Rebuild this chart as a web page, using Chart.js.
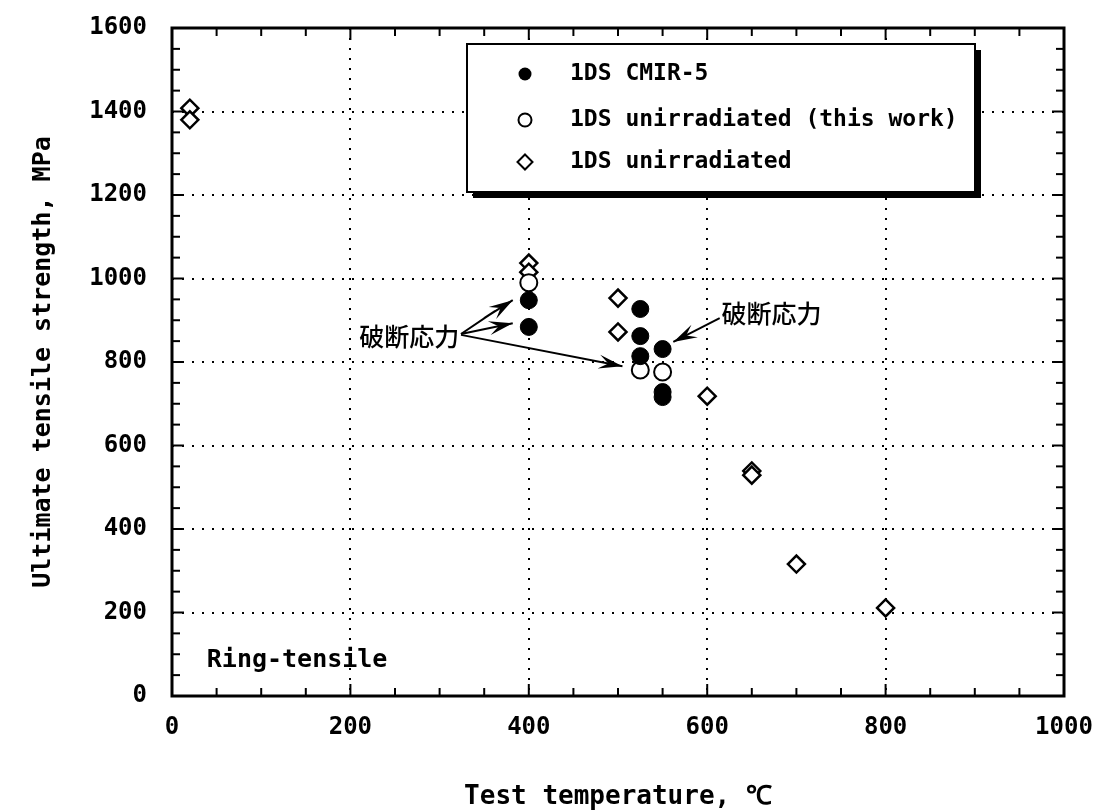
<!DOCTYPE html>
<html><head><meta charset="utf-8">
<script src="https://cdn.jsdelivr.net/npm/chart.js@4"></script>
<style>html,body{margin:0;padding:0;background:#fff}</style>
</head><body>
<canvas id="c" width="1101" height="810"></canvas>
<script>
// ---- data ----
const cmirTemp = [400, 400, 525, 525, 525, 550, 550, 550];
const cmirUTS  = [948, 884, 927, 862, 814, 831, 728, 716];
const thisWorkTemp = [400, 525, 550];
const thisWorkUTS  = [990, 781, 776];
const unirrTemp = [20, 20, 400, 400, 500, 500, 600, 650, 650, 700, 800];
const unirrUTS  = [1408, 1380, 1037, 1015, 953, 872, 718, 539, 529, 316, 211];
const seriesNames = ['1DS CMIR-5', '1DS unirradiated (this work)', '1DS unirradiated'];
const xTitle = 'Test temperature, \u2103';
const yTitle = 'Ultimate tensile strength, MPa';
const noteText = '破断応力';
const ringText = 'Ring-tensile';

const pts = (xs, ys) => xs.map((v, i) => ({x: v, y: ys[i]}));
const MONO = 'DejaVu Sans Mono';

const overlay = {
  id: 'overlay',
  beforeDatasetsDraw(ch) {
    const {ctx, chartArea: a, scales: {x, y}} = ch;
    ctx.save();
    ctx.strokeStyle = '#000';
    ctx.lineWidth = 2;
    const seg = (x1, y1, x2, y2) => { ctx.beginPath(); ctx.moveTo(x1, y1); ctx.lineTo(x2, y2); ctx.stroke(); };
    for (let v = x.min; v <= x.max; v += 50) {
      const p = x.getPixelForValue(v), L = v % 200 === 0 ? 12 : 8;
      seg(p, a.bottom, p, a.bottom - L); seg(p, a.top, p, a.top + L);
    }
    for (let v = y.min; v <= y.max; v += 50) {
      const p = y.getPixelForValue(v), L = v % 200 === 0 ? 12 : 8;
      seg(a.left, p, a.left + L, p); seg(a.right, p, a.right - L, p);
    }
    ctx.lineWidth = 3;
    ctx.strokeRect(a.left, a.top, a.right - a.left, a.bottom - a.top);
    ctx.restore();
  },
  afterDatasetsDraw(ch) {
    const {ctx, scales: {x, y}} = ch;
    const X = v => x.getPixelForValue(v), Y = v => y.getPixelForValue(v);
    ctx.save();
    ctx.fillStyle = '#000'; ctx.strokeStyle = '#000';
    // ---- legend box ----
    const bx = 467, by = 44, bw = 508, bh = 148;
    ctx.fillStyle = '#000';
    ctx.fillRect(bx + bw, by + 6, 6, bh);
    ctx.fillRect(bx + 6, by + bh, bw, 6);
    ctx.fillStyle = '#fff';
    ctx.fillRect(bx, by, bw, bh);
    ctx.lineWidth = 2;
    ctx.strokeRect(bx, by, bw, bh);
    const rows = [74, 120, 162];
    const mx = 525;
    ctx.fillStyle = '#000';
    ctx.beginPath(); ctx.arc(mx, rows[0], 6.5, 0, Math.PI * 2); ctx.fill();
    ctx.lineWidth = 2;
    ctx.beginPath(); ctx.arc(mx, rows[1], 6.5, 0, Math.PI * 2); ctx.stroke();
    ctx.beginPath(); ctx.moveTo(mx, rows[2] - 7.5); ctx.lineTo(mx + 7.5, rows[2]); ctx.lineTo(mx, rows[2] + 7.5); ctx.lineTo(mx - 7.5, rows[2]); ctx.closePath(); ctx.stroke();
    ctx.font = 'bold 23px "' + MONO + '"';
    ctx.textBaseline = 'middle'; ctx.textAlign = 'left';
    seriesNames.forEach((t, i) => ctx.fillText(t, 570, rows[i]));

    // ---- annotations ----
    ctx.font = '500 25px "Noto Sans CJK JP"';
    ctx.fillText(noteText, X(210), Y(862));
    ctx.fillText(noteText, X(616), Y(915));
    ctx.font = 'bold 25px "' + MONO + '"';
    ctx.fillText(ringText, X(39), Y(84));

    const head = (x1, y1, x2, y2) => {
      const ang = Math.atan2(y2 - y1, x2 - x1), L = 24, W = 7;
      ctx.beginPath();
      ctx.moveTo(x2, y2);
      ctx.lineTo(x2 - L * Math.cos(ang) + W * Math.sin(ang), y2 - L * Math.sin(ang) - W * Math.cos(ang));
      ctx.lineTo(x2 - 0.6 * L * Math.cos(ang), y2 - 0.6 * L * Math.sin(ang));
      ctx.lineTo(x2 - L * Math.cos(ang) - W * Math.sin(ang), y2 - L * Math.sin(ang) + W * Math.cos(ang));
      ctx.closePath(); ctx.fill();
    };
    const arrow = (list) => {
      const p = list.map(([a, b]) => [X(a), Y(b)]);
      ctx.lineWidth = 2;
      ctx.beginPath(); ctx.moveTo(p[0][0], p[0][1]);
      for (let i = 1; i < p.length; i++) ctx.lineTo(p[i][0], p[i][1]);
      ctx.stroke();
      const n = p.length;
      head(p[n - 2][0], p[n - 2][1], p[n - 1][0], p[n - 1][1]);
    };
    arrow([[324, 867], [362, 922], [350, 905], [382, 948]]);
    arrow([[324, 867], [382, 893]]);
    arrow([[324, 865], [505, 790]]);
    arrow([[614, 905], [562, 848]]);
    ctx.restore();
  }
};

const plainTick = v => String(v);

new Chart(document.getElementById('c'), {
  type: 'scatter',
  data: {
    datasets: [
      {label: seriesNames[0], data: pts(cmirTemp, cmirUTS), pointStyle: 'circle', pointRadius: 8.5,
       backgroundColor: '#000', borderColor: '#000', borderWidth: 1},
      {label: seriesNames[1], data: pts(thisWorkTemp, thisWorkUTS), pointStyle: 'circle', pointRadius: 8.5,
       backgroundColor: '#fff', borderColor: '#000', borderWidth: 2},
      {label: seriesNames[2], data: pts(unirrTemp, unirrUTS), pointStyle: 'rectRot', pointRadius: 8.5,
       backgroundColor: '#fff', borderColor: '#000', borderWidth: 2.5}
    ]
  },
  options: {
    responsive: false,
    animation: false,
    devicePixelRatio: 1,
    layout: {padding: {top: 28, right: 37, left: 0, bottom: 0}},
    plugins: {legend: {display: false}, tooltip: {enabled: false}},
    scales: {
      x: {
        type: 'linear', min: 0, max: 1000,
        ticks: {stepSize: 200, color: '#000', font: {family: MONO, size: 24, weight: 'bold'}, padding: 17, maxRotation: 0, callback: plainTick},
        grid: {color: '#000', lineWidth: 2, drawTicks: false},
        border: {display: false, dash: [2, 8]},
        title: {display: true, text: xTitle, color: '#000', font: {family: MONO, size: 26, weight: 'bold', lineHeight: 1}, padding: {top: 0, bottom: 0}},
        afterFit(s) { s.height = 114; s.paddingLeft = 0; s.paddingRight = 0; }
      },
      y: {
        type: 'linear', min: 0, max: 1600,
        ticks: {stepSize: 200, color: '#000', font: {family: MONO, size: 24, weight: 'bold'}, padding: 25, callback: plainTick},
        grid: {color: '#000', lineWidth: 2, drawTicks: false},
        border: {display: false, dash: [2, 8]},
        title: {display: true, text: yTitle, color: '#000', font: {family: MONO, size: 25, weight: 'bold', lineHeight: 1}, padding: {top: 31, bottom: 0}},
        afterFit(s) { s.width = 172; s.paddingTop = 0; s.paddingBottom = 0; }
      }
    }
  },
  plugins: [overlay]
});
</script>
</body></html>
